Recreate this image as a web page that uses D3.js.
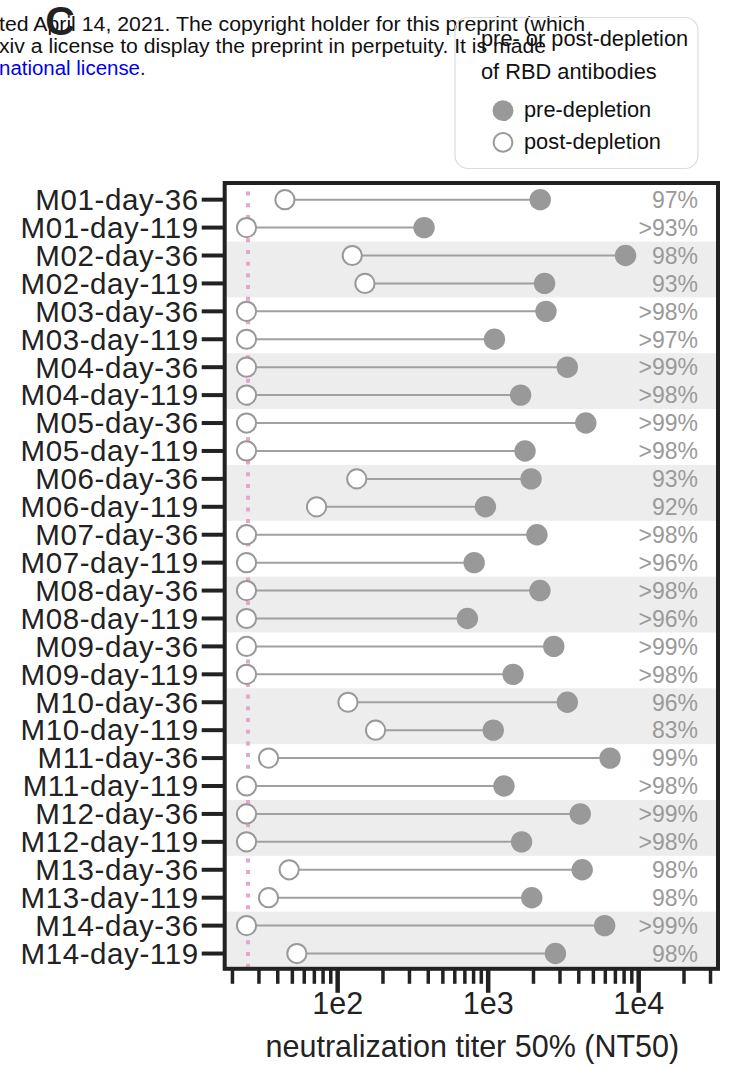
<!DOCTYPE html>
<html>
<head>
<meta charset="utf-8">
<script src="https://cdn.jsdelivr.net/npm/d3@7"></script>
<style>
  body { margin: 0; background: #fff; }
  text { font-family: "Liberation Sans", Arial, Helvetica, sans-serif; }
</style>
</head>
<body>
<div id="chart"></div>
<script>
// sample labels, top to bottom
const samples = [
    "M01-day-36", "M01-day-119", "M02-day-36", "M02-day-119",
    "M03-day-36", "M03-day-119", "M04-day-36", "M04-day-119",
    "M05-day-36", "M05-day-119", "M06-day-36", "M06-day-119",
    "M07-day-36", "M07-day-119", "M08-day-36", "M08-day-119",
    "M09-day-36", "M09-day-119", "M10-day-36", "M10-day-119",
    "M11-day-36", "M11-day-119", "M12-day-36", "M12-day-119",
    "M13-day-36", "M13-day-119", "M14-day-36", "M14-day-119"
];

// NT50 before RBD antibody depletion
const preDepletion = [
    2234, 378, 8240, 2388, 2440, 1109, 3381, 1655, 4488, 1771,
    1942, 966, 2124, 813, 2224, 733, 2749, 1475, 3381, 1089,
    6500, 1283, 4120, 1680, 4247, 1963, 5987, 2820
];

// NT50 after depletion (25 = limit of detection)
const postDepletion = [
    45, 25, 126, 153, 25, 25, 25, 25, 25, 25,
    135, 73, 25, 25, 25, 25, 25, 25, 118, 180,
    35, 25, 25, 25, 48, 35, 25, 54
];

// percent of neutralizing activity removed
const pctLabels = [
    "97%", ">93%", "98%", "93%", ">98%", ">97%", ">99%", ">98%",
    ">99%", ">98%", "93%", "92%", ">98%", ">96%", ">98%", ">96%",
    ">99%", ">98%", "96%", "83%", "99%", ">98%", ">99%", ">98%",
    "98%", "98%", ">99%", "98%"
];

const majorTicks = [1e2, 1e3, 1e4];
const minorTicks = [20, 30, 40, 50, 60, 70, 80, 90,
    200, 300, 400, 500, 600, 700, 800, 900,
    2000, 3000, 4000, 5000, 6000, 7000, 8000, 9000,
    20000, 30000];
const detectionLimit = 25;

const legendTitle = ["pre- or post-depletion", "of RBD antibodies"];
const legendItems = ["pre-depletion", "post-depletion"];

const W = 731, H = 1067;
const frame = { left: 224.7, right: 718, top: 183, bottom: 968.8 };
const preColor = "#999999";

const svg = d3.select("#chart").append("svg")
    .attr("width", W)
    .attr("height", H);

// header text from the preprint page (cut off on the left)
const header = svg.append("g").style("font-size", "20px").attr("fill", "#111");
header.append("text").attr("x", -1).attr("y", 31)
    .attr("textLength", 586).attr("lengthAdjust", "spacingAndGlyphs")
    .text("ted April 14, 2021. The copyright holder for this preprint (which");
header.append("text").attr("x", -1).attr("y", 53)
    .attr("textLength", 547).attr("lengthAdjust", "spacingAndGlyphs")
    .text("xiv a license to display the preprint in perpetuity. It is made");
const line3 = header.append("text").attr("x", -1).attr("y", 75);
line3.append("tspan").attr("fill", "#0000ee")
    .attr("textLength", 141).attr("lengthAdjust", "spacingAndGlyphs")
    .text("national license");
line3.append("tspan").text(".");

svg.append("text")
    .attr("x", 60).attr("y", 35)
    .attr("text-anchor", "middle")
    .style("font-size", "41px").style("font-weight", "bold")
    .attr("fill", "#222")
    .text("C");

// scales
const x = d3.scaleLog()
    .domain([17.9, 33900])
    .range([frame.left, frame.right]);

const y = d3.scaleBand()
    .domain(samples)
    .range([185.7, 967.5]);

const yc = d => y(d) + y.bandwidth() / 2;

// plot background + alternating bands (pairs of rows)
svg.append("rect")
    .attr("x", frame.left).attr("y", frame.top)
    .attr("width", frame.right - frame.left)
    .attr("height", frame.bottom - frame.top)
    .attr("fill", "#fff");

const pairs = d3.range(0, samples.length, 2).filter((d, i) => i % 2 === 1);
svg.append("g").selectAll("rect")
    .data(pairs)
    .join("rect")
    .attr("x", frame.left)
    .attr("y", i => y(samples[i]))
    .attr("width", frame.right - frame.left)
    .attr("height", y.bandwidth() * 2)
    .attr("fill", "#ededed");

// limit of detection
svg.append("line")
    .attr("x1", x(detectionLimit) + 1.5).attr("x2", x(detectionLimit) + 1.5)
    .attr("y1", 191.5).attr("y2", frame.bottom)
    .attr("stroke", "#e2a8cb")
    .attr("stroke-width", 4)
    .attr("stroke-dasharray", "4,7.7");

const rows = samples.map((s, i) => ({
    sample: s, pre: preDepletion[i], post: postDepletion[i], pct: pctLabels[i]
}));

// dumbbell segments
svg.append("g").selectAll("line")
    .data(rows)
    .join("line")
    .attr("x1", d => x(d.post))
    .attr("x2", d => x(d.pre))
    .attr("y1", d => yc(d.sample))
    .attr("y2", d => yc(d.sample))
    .attr("stroke", "#a0a0a0")
    .attr("stroke-width", 2);

svg.append("g").selectAll("circle")
    .data(rows)
    .join("circle")
    .attr("cx", d => x(d.pre))
    .attr("cy", d => yc(d.sample))
    .attr("r", 10.7)
    .attr("fill", preColor);

svg.append("g").selectAll("circle")
    .data(rows)
    .join("circle")
    .attr("cx", d => x(d.post))
    .attr("cy", d => yc(d.sample))
    .attr("r", 9.6)
    .attr("fill", "#fff")
    .attr("stroke", "#999")
    .attr("stroke-width", 2);

svg.append("g").selectAll("text")
    .data(rows)
    .join("text")
    .attr("x", 698)
    .attr("y", d => yc(d.sample))
    .attr("dy", "0.36em")
    .attr("text-anchor", "end")
    .attr("fill", "#9a9a9a")
    .style("font-size", "23px")
    .text(d => d.pct);

// frame
svg.append("rect")
    .attr("x", frame.left).attr("y", frame.top)
    .attr("width", frame.right - frame.left)
    .attr("height", frame.bottom - frame.top)
    .attr("fill", "none")
    .attr("stroke", "#222")
    .attr("stroke-width", 4);

// y axis
const yAxis = svg.append("g")
    .attr("transform", `translate(${frame.left},0)`)
    .call(d3.axisLeft(y).tickSize(23).tickPadding(3));
yAxis.select(".domain").remove();
yAxis.selectAll(".tick line").attr("stroke", "#222").attr("stroke-width", 4);
yAxis.selectAll(".tick text")
    .attr("fill", "#222")
    .attr("dy", "0.35em")
    .style("font-size", "29.5px")
    .style("letter-spacing", "0.6px")
    .style("font-family", "'Liberation Sans', Arial, sans-serif");

// x axis: minor then major ticks
const xMinor = svg.append("g")
    .attr("transform", `translate(0,${frame.bottom})`)
    .call(d3.axisBottom(x).tickValues(minorTicks).tickSize(15).tickFormat(""));
xMinor.select(".domain").remove();
xMinor.selectAll(".tick line").attr("stroke", "#222").attr("stroke-width", 3.5);

const xMajor = svg.append("g")
    .attr("transform", `translate(0,${frame.bottom})`)
    .call(d3.axisBottom(x).tickValues(majorTicks).tickSize(24)
        .tickFormat(d => "1e" + Math.round(Math.log10(d))));
xMajor.select(".domain").remove();
xMajor.selectAll(".tick line").attr("stroke", "#222").attr("stroke-width", 4.5);
xMajor.selectAll(".tick text")
    .attr("y", 45).attr("dy", 0)
    .attr("fill", "#222")
    .style("font-size", "30.5px")
    .style("font-family", "'Liberation Sans', Arial, sans-serif");

svg.append("text")
    .attr("x", (frame.left + frame.right) / 2 + 1)
    .attr("y", 1057)
    .attr("text-anchor", "middle")
    .attr("fill", "#222")
    .style("font-size", "30.5px")
    .text("neutralization titer 50% (NT50)");

// legend
const legend = svg.append("g");
legend.append("rect")
    .attr("x", 455).attr("y", 17.5)
    .attr("width", 243).attr("height", 151)
    .attr("rx", 13)
    .attr("fill", "#fff")
    .attr("fill-opacity", 0)
    .attr("stroke", "#dcdcdc")
    .attr("stroke-width", 1.2);

legend.selectAll("text.title")
    .data(legendTitle)
    .join("text")
    .attr("class", "title")
    .attr("x", 481)
    .attr("y", (d, i) => 46 + i * 32.5)
    .attr("fill", "#111")
    .style("font-size", "21.8px")
    .text(d => d);

const items = legend.selectAll("g.item")
    .data(legendItems)
    .join("g")
    .attr("class", "item")
    .attr("transform", (d, i) => `translate(503,${110.7 + i * 31.7})`);

items.append("circle")
    .attr("r", (d, i) => i === 0 ? 10.4 : 9.4)
    .attr("fill", (d, i) => i === 0 ? preColor : "#fff")
    .attr("stroke", (d, i) => i === 0 ? "none" : "#999")
    .attr("stroke-width", 2);

items.append("text")
    .attr("x", 21)
    .attr("dy", "0.3em")
    .attr("fill", "#111")
    .style("font-size", "21.8px")
    .text(d => d);
</script>
</body>
</html>
